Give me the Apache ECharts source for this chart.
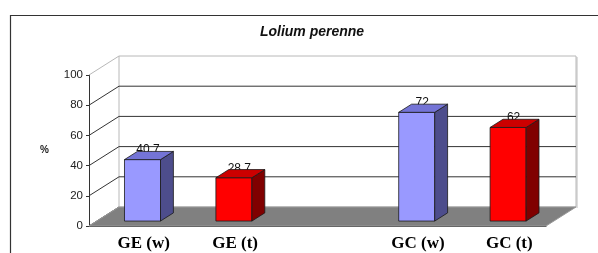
<!DOCTYPE html>
<html>
<head>
<meta charset="utf-8">
<script src="https://cdn.jsdelivr.net/npm/echarts@6/dist/echarts.min.js"></script>
<style>
html,body{margin:0;padding:0;background:#fff;}
#chart{width:598px;height:253px;}
</style>
</head>
<body>
<div id="chart"></div>
<script>
// ---- data ----
var titleText = 'Lolium perenne';
var categories = ['GE (w)', 'GE (t)', '', 'GC (w)', 'GC (t)'];
var wValues = [40.7, null, null, 72, null];   // blue bars
var tValues = [null, 28.7, null, null, 62];   // red bars
var yTicks = [0, 20, 40, 60, 80, 100];
var yAxisName = '%';

// ---- styling / geometry ----
var DEPTH = [30, -19];      // full floor depth in px
var F0 = 0.26, F1 = 0.69;   // bar front/back depth fractions
var BAR_FRAC = 0.394;

function pairs(arr) {
  var out = [];
  arr.forEach(function (v, i) { if (v !== null && v !== undefined) out.push([i, v]); });
  return out;
}
function fmt(v) { return String(v).replace('.', ','); }

function barRenderer(front, side, top) {
  return function (params, api) {
    var i = api.value(0), v = api.value(1);
    var base = api.coord([i, 0]);
    var tp = api.coord([i, v]);
    var bw = api.size([1, 0])[0] * BAR_FRAC;
    var ox = DEPTH[0] * F0, oy = DEPTH[1] * F0;
    var dx = DEPTH[0] * (F1 - F0), dy = DEPTH[1] * (F1 - F0);
    var x0 = base[0] - bw / 2 + ox, x1 = x0 + bw;
    var yb = base[1] + oy, yt = tp[1] + oy;
    var stroke = {stroke: '#1a1a1a', lineWidth: 0.8};
    return {
      type: 'group',
      children: [
        {type: 'text', style: {text: fmt(v), x: (x0 + x1) / 2 + dx / 2 - 1, y: yt - 9.5,
          align: 'center', verticalAlign: 'middle', fill: '#111',
          font: '12px "Liberation Sans", Arial, sans-serif'}},
        {type: 'polygon', shape: {points: [[x0, yb], [x1, yb], [x1, yt], [x0, yt]]},
          style: Object.assign({fill: front}, stroke)},
        {type: 'polygon', shape: {points: [[x1, yb], [x1 + dx, yb + dy], [x1 + dx, yt + dy], [x1, yt]]},
          style: Object.assign({fill: side}, stroke)},
        {type: 'polygon', shape: {points: [[x0, yt], [x1, yt], [x1 + dx, yt + dy], [x0 + dx, yt + dy]]},
          style: Object.assign({fill: top}, stroke)}
      ]
    };
  };
}

var chart = echarts.init(document.getElementById('chart'), null, {renderer: 'canvas'});
chart.setOption({
  animation: false,
  backgroundColor: '#fff',
  title: {
    text: titleText, left: 307, top: 20, textAlign: 'center',
    textStyle: {fontFamily: '"Liberation Sans", Arial, sans-serif', fontSize: 14,
      fontWeight: 'bold', fontStyle: 'italic', color: '#111'}
  },
  graphic: [{
    type: 'rect', left: 8, top: 13, shape: {width: 700, height: 400},
    style: {fill: 'none', stroke: '#333', lineWidth: 1.2}, z: -10
  }],
  grid: {left: 89, right: 52, top: 75, bottom: 27},
  xAxis: {
    type: 'category', data: categories,
    axisLine: {lineStyle: {color: '#333'}},
    axisTick: {length: 4, lineStyle: {color: '#333'}},
    axisLabel: {margin: 9, padding: [0, 0, 0, 18], color: '#000',
      fontFamily: '"Liberation Serif", "Times New Roman", serif',
      fontSize: 17, fontWeight: 'bold'},
    splitLine: {show: false}
  },
  yAxis: {
    type: 'value', min: 0, max: 100, interval: 20,
    name: yAxisName, nameLocation: 'middle', nameGap: 40, nameRotate: 0,
    nameTextStyle: {fontFamily: '"Liberation Sans", Arial, sans-serif', fontSize: 10,
      fontWeight: 'bold', color: '#222'},
    axisLine: {show: true, lineStyle: {color: '#333'}},
    axisTick: {show: true, length: 3, lineStyle: {color: '#333'}},
    axisLabel: {margin: 6, color: '#222',
      fontFamily: '"Liberation Sans", Arial, sans-serif', fontSize: 11.5},
    splitLine: {show: false}
  },
  series: [
    { // back wall
      type: 'custom', z: 1, silent: true, data: [[0]],
      renderItem: function (params, api) {
        var cs = params.coordSys;
        var y0 = api.coord([0, 0])[1] + DEPTH[1];
        var y1 = api.coord([0, 100])[1] + DEPTH[1];
        var xl = cs.x + DEPTH[0], xr = cs.x + cs.width + DEPTH[0];
        return {type: 'group', children: [
          {type: 'rect', shape: {x: xr, y: y1 + 1, width: 2, height: y0 - y1},
            style: {fill: '#ddd'}},
          {type: 'rect', shape: {x: xl, y: y1, width: xr - xl, height: y0 - y1},
            style: {fill: '#fff', stroke: '#b8b8b8', lineWidth: 1}}
        ]};
      }
    },
    { // gridlines on back wall + side diagonals
      type: 'custom', z: 2, silent: true, data: yTicks.map(function (v) { return [0, v]; }),
      renderItem: function (params, api) {
        var cs = params.coordSys;
        var v = api.value(1);
        var y = api.coord([0, v])[1];
        var xl = cs.x + DEPTH[0], xr = cs.x + cs.width + DEPTH[0];
        var col = v === 100 ? '#b8b8b8' : '#333';
        var ch = [{type: 'line', shape: {x1: cs.x, y1: y, x2: xl, y2: y + DEPTH[1]},
          style: {stroke: col, lineWidth: 1}}];
        if (v > 0 && v < 100) {
          ch.push({type: 'line', shape: {x1: xl, y1: y + DEPTH[1], x2: xr, y2: y + DEPTH[1]},
            style: {stroke: col, lineWidth: 1}});
        }
        return {type: 'group', children: ch};
      }
    },
    { // floor
      type: 'custom', z: 3, silent: true, data: [[0, 0]],
      renderItem: function (params, api) {
        var cs = params.coordSys;
        var y = api.coord([0, 0])[1];
        var xl = cs.x, xr = cs.x + cs.width;
        return {type: 'polygon', shape: {points: [[xl, y], [xr, y],
            [xr + DEPTH[0], y + DEPTH[1]], [xl + DEPTH[0], y + DEPTH[1]]]},
          style: {fill: '#808080', stroke: '#999', lineWidth: 1}};
      }
    },
    {
      name: 'w', type: 'custom', z: 4, data: pairs(wValues),
      renderItem: barRenderer('#9999FF', '#4D4D8C', '#7474D6')
    },
    {
      name: 't', type: 'custom', z: 4, data: pairs(tValues),
      renderItem: barRenderer('#FF0000', '#800000', '#CC0000')
    }
  ]
});
</script>
</body>
</html>
